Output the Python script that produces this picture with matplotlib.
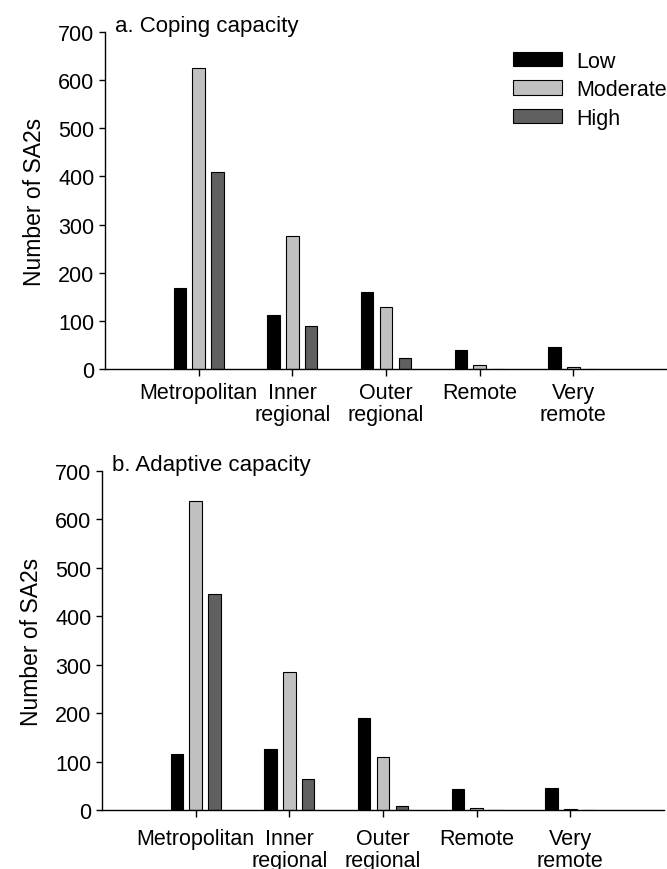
import matplotlib.pyplot as plt
import numpy as np

plt.rcParams["font.family"] = ["Liberation Sans", "DejaVu Sans"]
plt.rcParams["font.size"] = 15.5

REGIONS = ["Metropolitan", "Inner\nregional", "Outer\nregional", "Remote", "Very\nremote"]
LEVELS = ["Low", "Moderate", "High"]
COLORS = {"Low": "#000000", "Moderate": "#c0c0c0", "High": "#606060"}

# a. coping capacity
coping_low = [169, 113, 159, 40, 45]
coping_mod = [625, 276, 128, 9, 4]
coping_high = [410, 89, 22, 0, 0]

# b. adaptive capacity
adaptive_low = [116, 126, 190, 43, 46]
adaptive_mod = [638, 284, 110, 5, 2]
adaptive_high = [446, 64, 8, 0, 0]

W, H = 667, 870
fig = plt.figure(figsize=(W / 100, H / 100), dpi=100)


def px_axes(left, right, top, bottom):
    return fig.add_axes([left / W, 1 - bottom / H, (right - left) / W, (bottom - top) / H])


def draw_panel(ax, series, title, label_pad, legend=False):
    x = np.arange(1, len(REGIONS) + 1)
    offsets = [-0.2, 0.0, 0.2]
    for lvl, vals, off in zip(LEVELS, series, offsets):
        ax.bar(x + off, vals, width=0.133, color=COLORS[lvl], edgecolor="black",
               linewidth=0.8, label=lvl, zorder=2)
    ax.set_xlim(0, 6.0)
    ax.set_ylim(0, 700)
    ax.set_yticks(range(0, 701, 100))
    ax.set_xticks(x)
    ax.set_xticklabels(REGIONS, linespacing=1.05)
    for s in ["top", "right"]:
        ax.spines[s].set_visible(False)
    for s in ["left", "bottom"]:
        ax.spines[s].set_linewidth(1.0)
    ax.tick_params(axis="y", direction="out", length=4.5, width=1.0, pad=3)
    ax.tick_params(axis="x", direction="out", length=5, width=1.0, pad=label_pad)
    ax.set_ylabel("Number of SA2s", fontsize=16.5, labelpad=9)
    ax.text(10 / 562, 1.003, title, transform=ax.transAxes, ha="left", va="baseline",
            fontsize=16)
    if legend:
        ax.legend(loc="upper left", bbox_to_anchor=(0.7255, 0.945), frameon=False,
                  handlelength=2.28, handleheight=0.65, handletextpad=0.65,
                  labelspacing=0.35, borderpad=0, borderaxespad=0)


ax1 = px_axes(105, 667, 33, 370)
draw_panel(ax1, [coping_low, coping_mod, coping_high], "a. Coping capacity", 4.3, legend=True)

ax2 = px_axes(102, 664, 472, 811)
draw_panel(ax2, [adaptive_low, adaptive_mod, adaptive_high], "b. Adaptive capacity", 8)

fig.savefig("out.png", dpi=100)
